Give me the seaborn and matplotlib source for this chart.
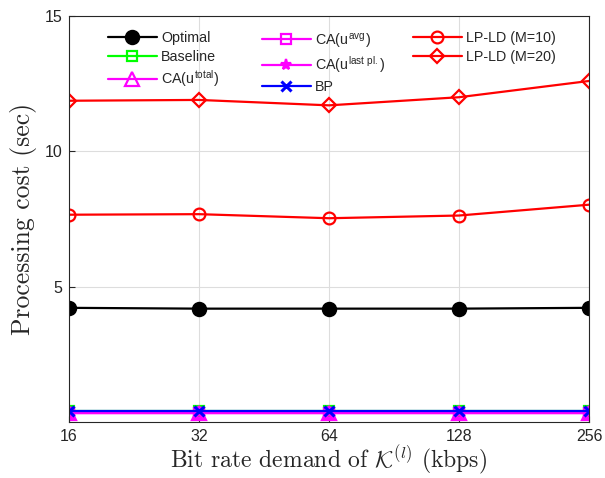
import numpy as np
import pandas as pd
import seaborn as sns
import matplotlib
matplotlib.use("Agg")
import matplotlib.pyplot as plt

bit_rates = [16, 32, 64, 128, 256]
optimal = [4.22, 4.19, 4.19, 4.19, 4.22]
baseline = [0.42, 0.42, 0.42, 0.42, 0.42]
ca_total = [0.33, 0.33, 0.33, 0.33, 0.33]
ca_avg = [0.35, 0.35, 0.35, 0.35, 0.35]
ca_last = [0.35, 0.35, 0.35, 0.35, 0.35]
bp = [0.42, 0.42, 0.42, 0.42, 0.42]
lpld10 = [7.66, 7.68, 7.53, 7.63, 8.03]
lpld20 = [11.87, 11.90, 11.70, 12.00, 12.60]

series = [
    ("Optimal", optimal, "black", "o", dict(markersize=9.5, markerfacecolor="black")),
    ("Baseline", baseline, "#00ff00", "s", dict(markersize=7, markerfacecolor="none")),
    ("CA(u$^{\\mathregular{total}}$)", ca_total, "magenta", "^", dict(markersize=10, markerfacecolor="none")),
    ("CA(u$^{\\mathregular{avg}}$)", ca_avg, "magenta", "s", dict(markersize=7, markerfacecolor="none")),
    ("CA(u$^{\\mathregular{last\\ pl.}}$)", ca_last, "magenta", "*", dict(markersize=8)),
    ("BP", bp, "blue", "x", dict(markersize=7, markeredgewidth=2.2)),
    ("LP-LD (M=10)", lpld10, "red", "o", dict(markersize=8.5, markerfacecolor="none")),
    ("LP-LD (M=20)", lpld20, "red", "D", dict(markersize=7.5, markerfacecolor="none")),
]

sns.set_style("ticks")
plt.rcParams['font.family'] = ['Liberation Sans', 'DejaVu Sans']
plt.rcParams['mathtext.fontset'] = 'cm'
plt.rcParams['axes.formatter.use_mathtext'] = True

fig = plt.figure(figsize=(6.05, 4.78), dpi=100)
ax = fig.add_axes([0.114, 0.117, 0.8596, 0.8495])

for name, vals, color, marker, kw in series:
    df = pd.DataFrame({"x": bit_rates, "y": vals})
    mew = kw.pop("markeredgewidth", 1.6)
    sns.lineplot(data=df, x="x", y="y", ax=ax, color=color, marker=marker,
                 linewidth=1.6, markeredgecolor=color, markeredgewidth=mew,
                 label=name, **kw)

ax.set_xscale("log", base=2)
ax.set_xlim(16, 256)
ax.set_xticks(bit_rates)
ax.set_xticklabels([str(b) for b in bit_rates])
ax.minorticks_off()
ax.set_ylim(0, 15)
ax.set_yticks([5, 10, 15])
ax.set_yticklabels(["5", "10", "15"])
ax.tick_params(direction="in", labelsize=11.5, length=4, width=0.8, colors="#262626")
ax.tick_params(axis="x", pad=5)
ax.tick_params(axis="y", pad=5)
ax.grid(True, color="#dddddd", linewidth=0.8)
ax.set_axisbelow(True)
for sp in ax.spines.values():
    sp.set_visible(True)
    sp.set_color("#262626")
    sp.set_linewidth(0.8)

ax.set_xlabel("Bit rate demand of $\\mathcal{K}^{(l)}$ (kbps)", fontsize=17, labelpad=-0.5)
ax.set_ylabel("Processing cost (sec)", fontsize=18.5, labelpad=5)
for lbl in (ax.xaxis.label, ax.yaxis.label):
    lbl.set_fontfamily("cmr10")

handles, labels = ax.get_legend_handles_labels()
groups = [(0, 3, 108), (3, 6, 262), (6, 8, 413)]
legs = []
for i0, i1, xpx in groups:
    lg = ax.legend(handles[i0:i1], labels[i0:i1], frameon=False, loc="upper left",
                   bbox_to_anchor=(xpx / 605, 1 - 31 / 478), bbox_transform=fig.transFigure,
                   borderpad=0, borderaxespad=0,
                   fontsize=10.3, handlelength=3.4, handletextpad=0.3,
                   labelspacing=0.33)
    legs.append(lg)
for lg in legs[:-1]:
    ax.add_artist(lg)

fig.savefig("out.png", dpi=100)
